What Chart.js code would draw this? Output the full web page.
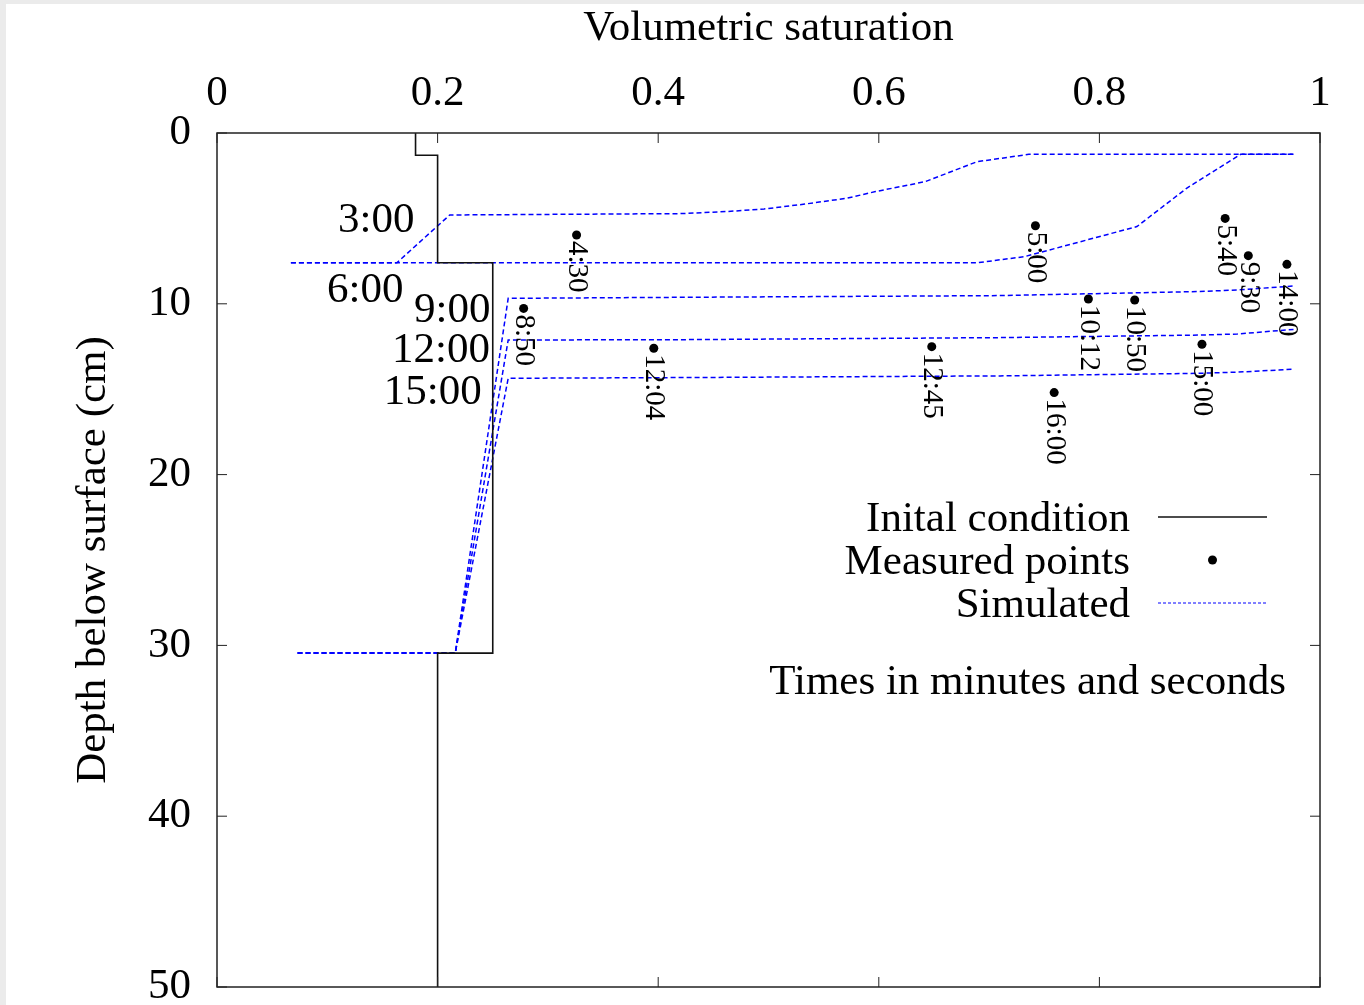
<!DOCTYPE html>
<html>
<head>
<meta charset="utf-8">
<script src="https://cdn.jsdelivr.net/npm/chart.js@4.4.1/dist/chart.umd.min.js"></script>
<style>
html, body { margin: 0; padding: 0; background: #ebebeb; overflow: hidden; width: 1364px; height: 1005px; }
#wrap { position: absolute; left: 6px; top: 4px; width: 1358px; height: 1027px; background: #fff; }
</style>
</head>
<body>
<div id="wrap"><canvas id="c"></canvas></div>
<script>
// initial condition profile
const initSat   = [0.18, 0.18, 0.2, 0.2, 0.25, 0.25, 0.2, 0.2];
const initDepth = [0, 1.3, 1.3, 7.6, 7.6, 30.45, 30.45, 50];

// simulated profiles
const sim300Sat   = [0.067, 0.163, 0.211, 0.42, 0.462, 0.496, 0.533, 0.571, 0.597, 0.642, 0.689, 0.736, 0.976];
const sim300Depth = [7.6, 7.6, 4.8, 4.72, 4.6, 4.45, 4.16, 3.82, 3.43, 2.85, 1.68, 1.25, 1.25];
const sim600Sat   = [0.067, 0.689, 0.732, 0.834, 0.879, 0.928, 0.976];
const sim600Depth = [7.6, 7.6, 7.24, 5.48, 3.24, 1.25, 1.25];
const sim900Sat   = [0.073, 0.216, 0.264, 0.42, 0.71, 0.891, 0.925, 0.976];
const sim900Depth = [30.45, 30.45, 9.68, 9.62, 9.52, 9.28, 9.19, 8.96];
const sim1200Sat   = [0.073, 0.216, 0.264, 0.42, 0.71, 0.891, 0.925, 0.976];
const sim1200Depth = [30.45, 30.45, 12.12, 12.1, 11.98, 11.83, 11.77, 11.5];
const sim1500Sat   = [0.073, 0.216, 0.264, 0.42, 0.71, 0.891, 0.925, 0.976];
const sim1500Depth = [30.45, 30.45, 14.36, 14.32, 14.22, 14.07, 14.0, 13.83];

// labels of the simulated profiles (right edge of text, data units)
const simLabels     = ['3:00', '6:00', '9:00', '12:00', '15:00'];
const simLabelSat   = [0.179, 0.169, 0.248, 0.2475, 0.24];
const simLabelDepth = [4.98, 9.07, 10.22, 12.59, 15.05];

// measured points
const measTime  = ['4:30', '5:00', '5:40', '9:30', '14:00', '8:50', '12:04', '12:45', '10:12', '10:50', '16:00', '15:00'];
const measSat   = [0.326, 0.742, 0.914, 0.935, 0.970, 0.278, 0.396, 0.648, 0.790, 0.832, 0.759, 0.893];
const measDepth = [5.97, 5.43, 5.0, 7.18, 7.69, 10.27, 12.6, 12.51, 9.72, 9.78, 15.2, 12.37];

const xTicks = [0, 0.2, 0.4, 0.6, 0.8, 1];
const yTicks = [0, 10, 20, 30, 40, 50];

const FONT = "'Liberation Serif', 'Times New Roman', serif";
const BLUE = '#0000ff';

const pts = (xs, ys) => xs.map((x, i) => ({ x: x, y: ys[i] }));

function simSet(xs, ys) {
  return {
    data: pts(xs, ys), showLine: true, pointRadius: 0,
    borderColor: BLUE, borderWidth: 1.5, borderDash: [5, 3], fill: false
  };
}

// border, inward ticks, point labels, legend
const decor = {
  id: 'decor',
  afterDatasetsDraw(chart) {
    const { ctx, chartArea: a, scales: { x, y } } = chart;
    ctx.save();
    // frame
    ctx.strokeStyle = '#222';
    ctx.lineWidth = 1.5;
    ctx.strokeRect(a.left, a.top, a.right - a.left, a.bottom - a.top);
    // inward ticks, mirrored
    ctx.lineWidth = 1;
    ctx.beginPath();
    xTicks.forEach(v => {
      const px = x.getPixelForValue(v);
      ctx.moveTo(px, a.top); ctx.lineTo(px, a.top + 10);
      ctx.moveTo(px, a.bottom); ctx.lineTo(px, a.bottom - 10);
    });
    yTicks.forEach(v => {
      const py = y.getPixelForValue(v);
      ctx.moveTo(a.left, py); ctx.lineTo(a.left + 10, py);
      ctx.moveTo(a.right, py); ctx.lineTo(a.right - 10, py);
    });
    ctx.stroke();

    ctx.fillStyle = '#000';
    // profile time labels
    ctx.font = '43px ' + FONT;
    ctx.textAlign = 'right';
    ctx.textBaseline = 'middle';
    simLabels.forEach((t, i) => {
      ctx.fillText(t, x.getPixelForValue(simLabelSat[i]), y.getPixelForValue(simLabelDepth[i]) + 3);
    });
    // measured point labels, rotated
    ctx.font = '29px ' + FONT;
    ctx.textAlign = 'left';
    measTime.forEach((t, i) => {
      ctx.save();
      ctx.translate(x.getPixelForValue(measSat[i]), y.getPixelForValue(measDepth[i]) + 6);
      ctx.rotate(Math.PI / 2);
      ctx.fillText(t, 0, 0);
      ctx.restore();
    });

    // legend
    const tx = a.right - 190, l0 = a.right - 162, l1 = a.right - 53;
    ctx.font = '43px ' + FONT;
    ctx.textAlign = 'right';
    ctx.fillText('Inital condition', tx, 516);
    ctx.fillText('Measured points', tx, 559);
    ctx.fillText('Simulated', tx, 602);
    ctx.fillText('Times in minutes and seconds', a.right - 34, 679);
    ctx.strokeStyle = '#111';
    ctx.lineWidth = 1.3;
    ctx.beginPath(); ctx.moveTo(l0, 513); ctx.lineTo(l1, 513); ctx.stroke();
    ctx.beginPath(); ctx.arc((l0 + l1) / 2, 556, 4.5, 0, Math.PI * 2); ctx.fill();
    ctx.strokeStyle = BLUE;
    ctx.lineWidth = 1;
    ctx.setLineDash([3, 2]);
    ctx.beginPath(); ctx.moveTo(l0, 599); ctx.lineTo(l1, 599); ctx.stroke();
    ctx.restore();
  }
};

Chart.defaults.font.family = FONT;
Chart.defaults.color = '#000';

new Chart(document.getElementById('c'), {
  type: 'scatter',
  data: {
    datasets: [
      { data: pts(initSat, initDepth), showLine: true, pointRadius: 0, borderColor: '#111', borderWidth: 1.6, fill: false },
      simSet(sim300Sat, sim300Depth),
      simSet(sim600Sat, sim600Depth),
      simSet(sim900Sat, sim900Depth),
      simSet(sim1200Sat, sim1200Depth),
      simSet(sim1500Sat, sim1500Depth),
      { data: pts(measSat, measDepth), showLine: false, pointRadius: 4.5, pointHoverRadius: 4.5,
        backgroundColor: '#000', borderColor: '#000', borderWidth: 0 }
    ]
  },
  options: {
    responsive: true,
    maintainAspectRatio: false,
    animation: false,
    events: [],
    layout: { padding: { right: 44, bottom: 44 } },
    plugins: { legend: { display: false }, tooltip: { enabled: false } },
    scales: {
      x: {
        type: 'linear', position: 'top', min: 0, max: 1,
        afterFit: s => { s.height = 129; },
        afterBuildTicks: s => { s.ticks = xTicks.map(v => ({ value: v })); },
        grid: { display: false, drawTicks: false },
        border: { display: false },
        ticks: { padding: 13, font: { size: 43 }, maxRotation: 0, callback: v => String(+v.toFixed(1)) },
        title: { display: true, text: 'Volumetric saturation', font: { size: 43, lineHeight: 1 }, padding: { top: 3 } }
      },
      y: {
        type: 'linear', position: 'left', reverse: true, min: 0, max: 50,
        afterFit: s => { s.width = 211; },
        afterBuildTicks: s => { s.ticks = yTicks.map(v => ({ value: v })); },
        grid: { display: false, drawTicks: false },
        border: { display: false },
        ticks: { padding: 26, font: { size: 43, lineHeight: 0.8 } },
        title: { display: true, text: 'Depth below surface (cm)', font: { size: 43, lineHeight: 1 }, padding: { top: 66 } }
      }
    }
  },
  plugins: [decor]
});
</script>
</body>
</html>
